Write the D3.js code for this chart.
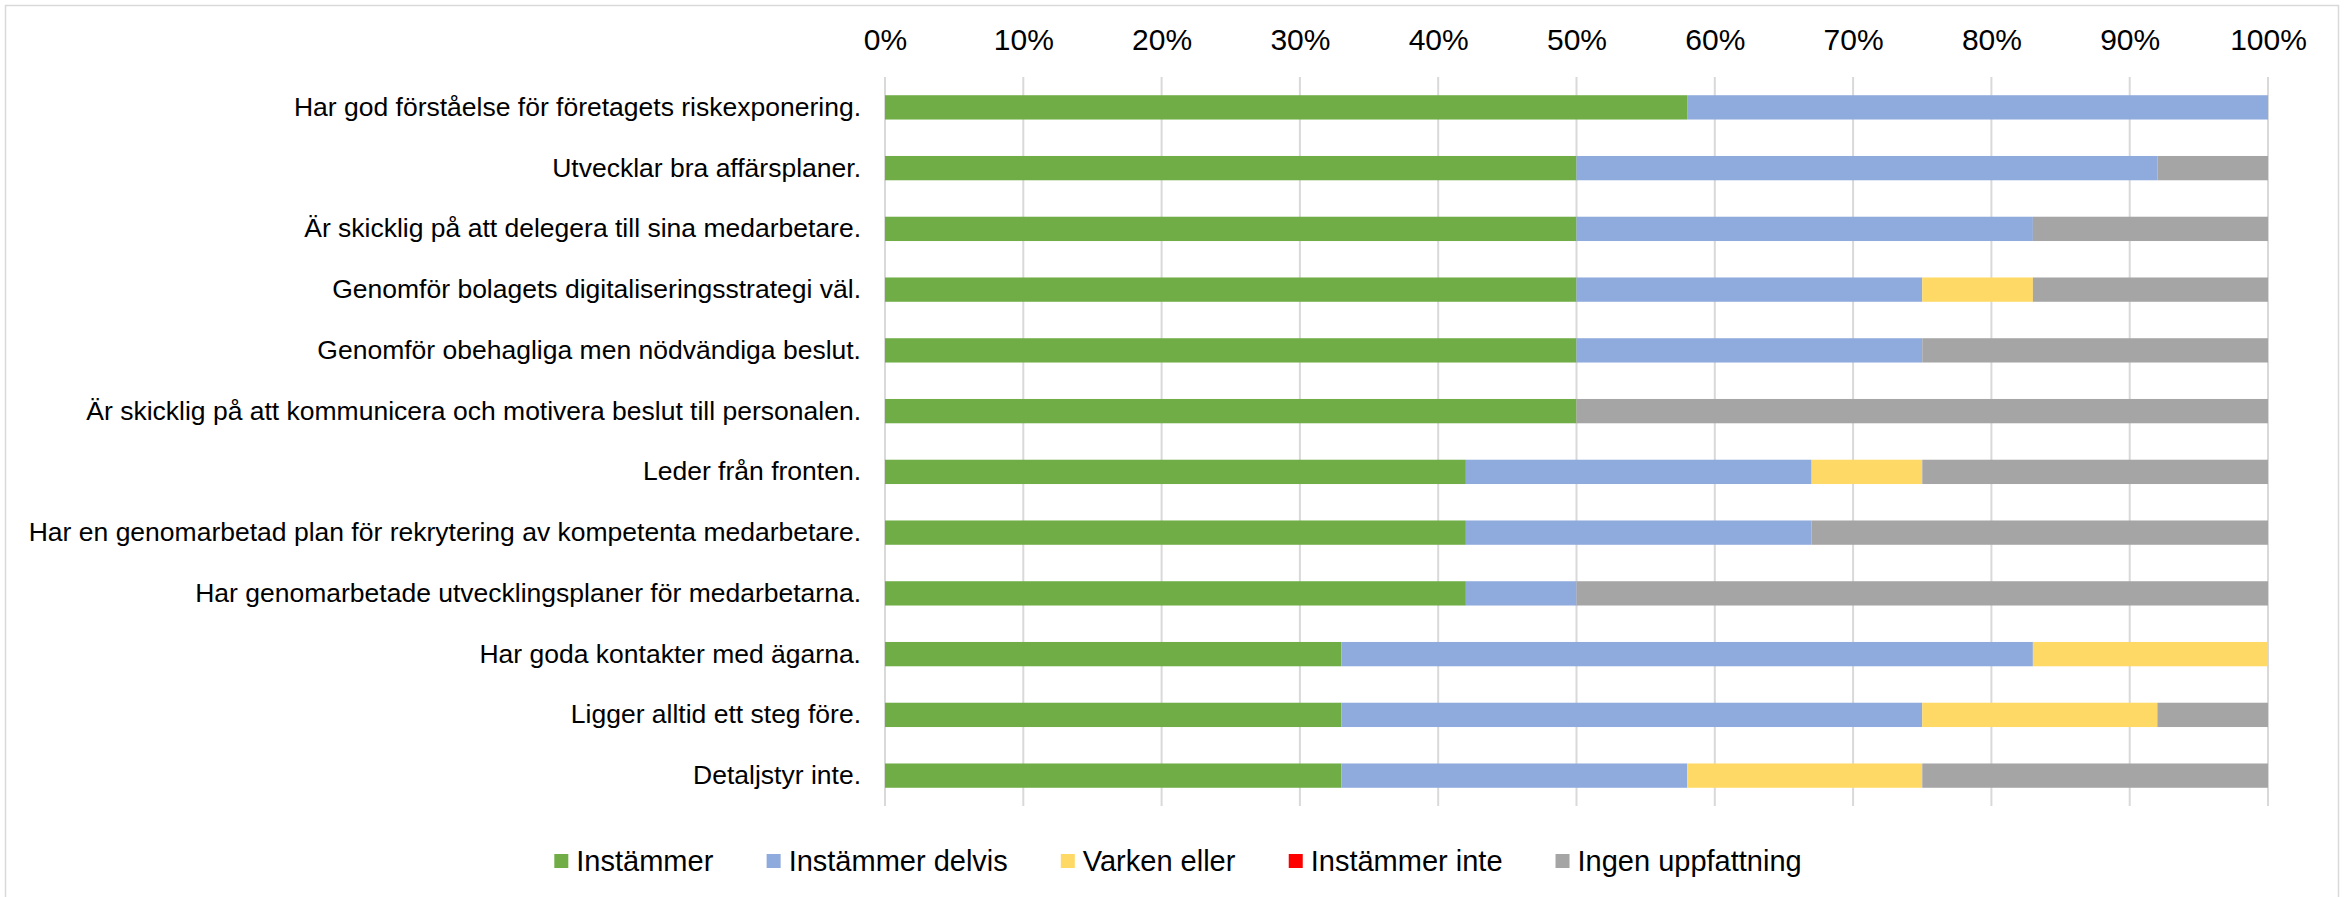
<!DOCTYPE html>
<html>
<head>
<meta charset="utf-8">
<script src="https://cdn.jsdelivr.net/npm/d3@7"></script>
<style>
  body { margin: 0; background: #fff; }
  svg { display: block; font-family: Arial, "Liberation Sans", sans-serif; }
</style>
</head>
<body>
<div id="chart"></div>
<script>
// Categories, top to bottom
const categories = [
  "Har god förståelse för företagets riskexponering.",
  "Utvecklar bra affärsplaner.",
  "Är skicklig på att delegera till sina medarbetare.",
  "Genomför bolagets digitaliseringsstrategi väl.",
  "Genomför obehagliga men nödvändiga beslut.",
  "Är skicklig på att kommunicera och motivera beslut till personalen.",
  "Leder från fronten.",
  "Har en genomarbetad plan för rekrytering av kompetenta medarbetare.",
  "Har genomarbetade utvecklingsplaner för medarbetarna.",
  "Har goda kontakter med ägarna.",
  "Ligger alltid ett steg före.",
  "Detaljstyr inte."
];

const seriesNames = ["Instämmer", "Instämmer delvis", "Varken eller", "Instämmer inte", "Ingen uppfattning"];
const seriesColors = ["#70AD47", "#8FAADC", "#FFD966", "#FF0000", "#A5A5A5"];

// Share in percent per category, same order as categories
const instammer        = [58, 50, 50, 50, 50, 50, 42, 42, 42, 33, 33, 33];
const instammerDelvis  = [42, 42, 33, 25, 25, 0, 25, 25, 8, 50, 42, 25];
const varkenEller      = [0, 0, 0, 8, 0, 0, 8, 0, 0, 17, 17, 17];
const instammerInte    = [0, 0, 0, 0, 0, 0, 0, 0, 0, 0, 0, 0];
const ingenUppfattning = [0, 8, 17, 17, 25, 50, 25, 33, 50, 0, 8, 25];

const tickValues = [0, 10, 20, 30, 40, 50, 60, 70, 80, 90, 100];

const width = 2351, height = 897;
const plot = { left: 885, right: 2268, top: 77, bottom: 806 };

const rows = categories.map((c, i) => ({
  cat: c,
  "Instämmer": instammer[i],
  "Instämmer delvis": instammerDelvis[i],
  "Varken eller": varkenEller[i],
  "Instämmer inte": instammerInte[i],
  "Ingen uppfattning": ingenUppfattning[i]
}));

const svg = d3.select("#chart").append("svg")
  .attr("width", width)
  .attr("height", height);

// chart area frame
svg.append("rect")
  .attr("x", 5.5).attr("y", 5.5)
  .attr("width", 2333).attr("height", 900)
  .attr("fill", "#fff")
  .attr("stroke", "#d9d9d9")
  .attr("stroke-width", 1.5);

const x = d3.scaleLinear().domain([0, 100]).range([plot.left, plot.right]);
const y = d3.scaleBand().domain(categories).range([plot.top, plot.bottom]).paddingInner(0.6).paddingOuter(0.3);
const color = d3.scaleOrdinal().domain(seriesNames).range(seriesColors);

// gridlines
svg.append("g")
  .selectAll("line")
  .data(tickValues)
  .join("line")
  .attr("x1", d => x(d)).attr("x2", d => x(d))
  .attr("y1", plot.top).attr("y2", plot.bottom)
  .attr("stroke", "#d9d9d9")
  .attr("stroke-width", 2);

// top axis labels
const xAxis = d3.axisTop(x).tickValues(tickValues).tickFormat(d => d + "%").tickSize(0).tickPadding(0);
svg.append("g")
  .attr("transform", "translate(0,50)")
  .call(xAxis)
  .call(g => g.select(".domain").remove())
  .call(g => g.selectAll("text")
    .attr("font-size", 30)
    .attr("fill", "#000")
    .attr("font-family", "Arial, 'Liberation Sans', sans-serif"));

// category labels
const yAxis = d3.axisLeft(y).tickSize(0).tickPadding(24);
svg.append("g")
  .attr("transform", `translate(${plot.left},0)`)
  .call(yAxis)
  .call(g => g.select(".domain").remove())
  .call(g => g.selectAll("text")
    .attr("font-size", 26.5)
    .attr("fill", "#000")
    .attr("font-family", "Arial, 'Liberation Sans', sans-serif"));

// stacked bars
const stacked = d3.stack().keys(seriesNames)(rows);
svg.append("g")
  .selectAll("g")
  .data(stacked)
  .join("g")
  .attr("fill", d => color(d.key))
  .selectAll("rect")
  .data(d => d)
  .join("rect")
  .attr("x", d => x(d[0]))
  .attr("y", d => y(d.data.cat))
  .attr("width", d => x(d[1]) - x(d[0]))
  .attr("height", y.bandwidth());

// legend
const legend = svg.append("g").attr("transform", "translate(0,861)");
const items = legend.selectAll("g")
  .data(seriesNames)
  .join("g");
items.append("rect")
  .attr("width", 14).attr("height", 14)
  .attr("y", -7)
  .attr("fill", d => color(d));
items.append("text")
  .attr("x", 22)
  .attr("dy", "0.35em")
  .attr("font-size", 29)
  .attr("fill", "#000")
  .text(d => d);

const gap = 53;
let offset = 0;
const positions = [];
items.each(function() {
  const w = this.getBBox().width;
  positions.push(offset);
  offset += w + gap;
});
const total = offset - gap;
const start = 1178 - total / 2;
items.attr("transform", (d, i) => `translate(${start + positions[i]},0)`);
</script>
</body>
</html>
